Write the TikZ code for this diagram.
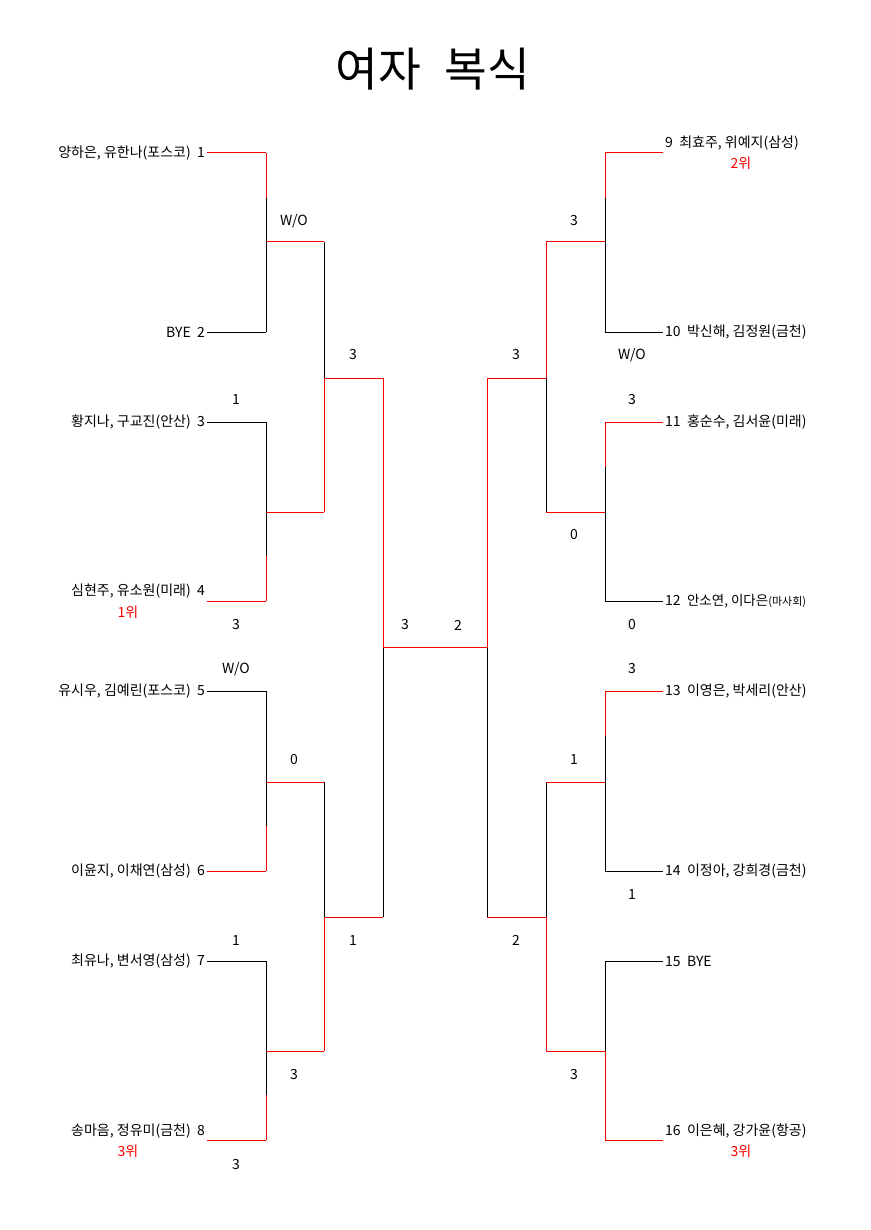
\documentclass[tikz,border=0pt]{standalone}
\usepackage{fontspec}
\setmainfont{Noto Sans CJK KR}
\usetikzlibrary{calc}

\begin{document}
\begin{tikzpicture}[x=1pt,y=-1pt,
  win/.style={red,line width=1pt},
  lose/.style={black,line width=1pt},
  every node/.style={font=\fontsize{14}{16}\selectfont,inner sep=0pt},
  lname/.style={anchor=east},
  rname/.style={anchor=west},
  place/.style={text=red}]
  \useasboundingbox (0,0) rectangle (870,1230);
  \node (title) at (433,69) {\fontsize{46.5}{52}\selectfont 여자\hspace{.5em}복식};
  % bracket points
  \foreach \i/\y in {1/153,2/332,3/422,4/601,5/691,6/871,7/961,8/1140} {
    \coordinate (a\i) at (207,\y);
    \coordinate (b\i) at (266,\y);
  }
  \foreach \i/\y in {9/153,10/332,11/422,12/601,13/691,14/871,15/961,16/1140} {
    \coordinate (a\i) at (663,\y);
    \coordinate (b\i) at (605,\y);
  }
  \foreach \i/\y in {1/242,2/512,3/782,4/1051} {
    \coordinate (q\i) at (266,\y);
    \coordinate (r\i) at (324,\y);
    \coordinate (q\the\numexpr\i+4\relax) at (605,\y);
    \coordinate (r\the\numexpr\i+4\relax) at (546,\y);
  }
  \coordinate (h1) at (324,378);
  \coordinate (h2) at (324,917);
  \coordinate (h3) at (546,378);
  \coordinate (h4) at (546,917);
  \coordinate (k1) at (383,378);
  \coordinate (k2) at (383,917);
  \coordinate (k3) at (487,378);
  \coordinate (k4) at (487,917);
  \coordinate (c1) at (383,647);
  \coordinate (c2) at (487,647);
  % losers
  \foreach \i in {2,3,5,7,10,12,14,15} \draw[lose] (a\i) -- (b\i);
  \foreach \i/\j in {1/2,3/4,5/6,7/8,9/10,11/12,13/14,15/16} \draw[lose] (b\i) -- (b\j);
  \draw[lose] (r1) -- (h1);
  \draw[lose] (r3) -- (h2);
  \draw[lose] (h3) -- (r6);
  \draw[lose] (r7) -- (h4);
  \draw[lose] (c1) -- (k2);
  \draw[lose] (c2) -- (k4);
  % winners
  \foreach \i in {1,4,6,8,9,11,13,16} \draw[win] (a\i) -- (b\i);
  \draw[win] (b1) -- ($(b1)!.25!(b2)$);
  \draw[win] ($(b4)!.25!(b3)$) -- (b4);
  \draw[win] ($(b6)!.25!(b5)$) -- (b6);
  \draw[win] ($(b8)!.25!(b7)$) -- (b8);
  \draw[win] (b9) -- ($(b9)!.25!(b10)$);
  \draw[win] (b11) -- ($(b11)!.25!(b12)$);
  \draw[win] (b13) -- ($(b13)!.25!(b14)$);
  \draw[win] (q8) -- (b16);
  \foreach \i in {1,...,8} \draw[win] (q\i) -- (r\i);
  \draw[win] (h1) -- (r2);
  \draw[win] (h2) -- (r4);
  \draw[win] (r5) -- (h3);
  \draw[win] (h4) -- (r8);
  \draw[win] (h1) -- (k1) -- (c1) -- (c2) -- (k3) -- (h3);
  \draw[win] (h2) -- (k2);
  \draw[win] (h4) -- (k4);
  % teams
  \node[lname] (n1) at (205,153) {양하은,~유한나(포스코)~~1};
  \node[lname] (n2) at (205,332) {BYE~~2};
  \node[lname] (n3) at (205,422) {황지나,~구교진(안산)~~3};
  \node[lname] (n4) at (205,591) {심현주,~유소원(미래)~~4};
  \node[lname] (n5) at (205,691) {유시우,~김예린(포스코)~~5};
  \node[lname] (n6) at (205,871) {이윤지,~이채연(삼성)~~6};
  \node[lname] (n7) at (205,961) {최유나,~변서영(삼성)~~7};
  \node[lname] (n8) at (205,1131) {송마음,~정유미(금천)~~8};
  \node[rname] (n9) at (665,143) {9~~최효주,~위예지(삼성)};
  \node[rname] (n10) at (665,332) {10~~박신해,~김정원(금천)};
  \node[rname] (n11) at (665,422) {11~~홍순수,~김서윤(미래)};
  \node[rname] (n12) at (665,601) {12~~{\fontsize{13.5}{16}\selectfont 안소연,~이다은}{\fontsize{11}{16}\selectfont(마사회)}};
  \node[rname] (n13) at (665,691) {13~~이영은,~박세리(안산)};
  \node[rname] (n14) at (665,871) {14~~이정아,~강희경(금천)};
  \node[rname] (n15) at (665,961) {15~~BYE};
  \node[rname] (n16) at (665,1131) {16~~이은혜,~강가윤(항공)};
  % places
  \node[place] (p1) at (128,612) {1위};
  \node[place] (p2) at (741,163) {2위};
  \node[place] (p3) at (128,1151) {3위};
  \node[place] (p4) at (741,1151) {3위};
  % scores
  \node (s1) at (294,221) {W/O};
  \node (s2) at (353,355) {3};
  \node (s3) at (236,400) {1};
  \node (s4) at (236,625) {3};
  \node (s5) at (236,669) {W/O};
  \node (s6) at (294,760) {0};
  \node (s7) at (236,940) {1};
  \node (s8) at (353,940) {1};
  \node (s9) at (294,1074) {3};
  \node (s10) at (236,1164) {3};
  \node (s11) at (405,625) {3};
  \node (s12) at (458,625) {2};
  \node (s13) at (574,221) {3};
  \node (s14) at (516,355) {3};
  \node (s15) at (632,355) {W/O};
  \node (s16) at (632,400) {3};
  \node (s17) at (574,535) {0};
  \node (s18) at (632,625) {0};
  \node (s19) at (632,669) {3};
  \node (s20) at (574,760) {1};
  \node (s21) at (632,894) {1};
  \node (s22) at (516,940) {2};
  \node (s23) at (574,1074) {3};
\end{tikzpicture}
\end{document}
